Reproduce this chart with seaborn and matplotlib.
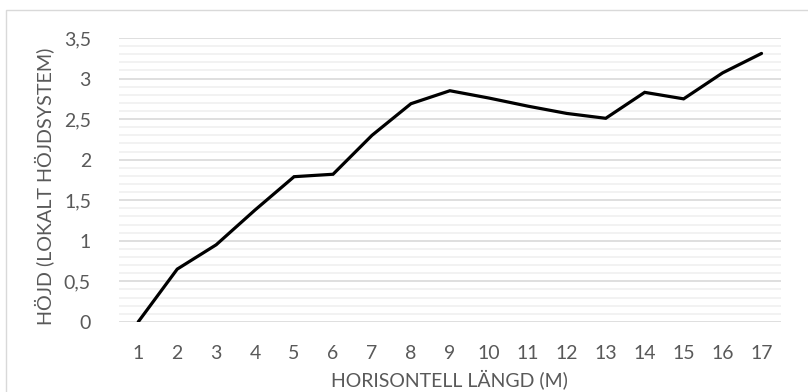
import matplotlib
matplotlib.use("Agg")
import matplotlib.pyplot as plt
from matplotlib.ticker import MultipleLocator, FuncFormatter
from matplotlib.patches import Rectangle
import seaborn as sns
import pandas as pd

# Profile: horizontal distance (m) and height in the local height system
langd = list(range(1, 18))
hojd = [0.0, 0.65, 0.95, 1.38, 1.79, 1.82, 2.30, 2.69, 2.85,
        2.76, 2.66, 2.57, 2.51, 2.83, 2.75, 3.07, 3.31]

xlabel = "HORISONTELL LÄNGD (M)"
ylabel = "HÖJD (LOKALT HÖJDSYSTEM)"

df = pd.DataFrame({"langd": langd, "hojd": hojd})

sns.set_theme(style="white")
plt.rcParams["font.family"] = ["Lato", "DejaVu Sans"]
text_color = "#595959"

fig = plt.figure(figsize=(8.08, 3.92), dpi=100)
fig.patch.set_facecolor("white")
ax = fig.add_axes([0.147, 0.179, 0.8196, 0.724])

# chart frame
fig.patches.append(Rectangle((6 / 808, -0.05), 1.2, 1 - 10 / 392 + 0.05,
                             transform=fig.transFigure, fill=False,
                             edgecolor="#d9d9d9", linewidth=1.0))

sns.lineplot(data=df, x="langd", y="hojd", ax=ax, color="black",
             linewidth=2.3, solid_capstyle="round", solid_joinstyle="miter")

ax.set_xlim(0.5, 17.5)
ax.set_ylim(0, 3.5)
ax.set_xticks(langd)
ax.set_xticklabels([str(v) for v in langd])
ax.yaxis.set_major_locator(MultipleLocator(0.5))
ax.yaxis.set_minor_locator(MultipleLocator(0.1))
ax.yaxis.set_major_formatter(FuncFormatter(
    lambda v, p: f"{v:g}".replace(".", ",")))

ax.grid(which="major", axis="y", color="#d9d9d9", linewidth=1.2)
ax.grid(which="minor", axis="y", color="#f0f0f0", linewidth=1.2)
ax.grid(which="both", axis="x", visible=False)
ax.set_axisbelow(True)
for s in ax.spines.values():
    s.set_visible(False)

ax.tick_params(axis="both", which="both", length=0, labelsize=14,
               labelcolor=text_color)
ax.tick_params(axis="y", pad=20)
ax.tick_params(axis="x", pad=17)

ax.set_xlabel(xlabel, fontsize=14, color=text_color, labelpad=5)
ax.set_ylabel(ylabel, fontsize=14.2, color=text_color)
ax.yaxis.set_label_coords(-0.097, 0.478)

fig.savefig("out.png", dpi=100, facecolor="white")
